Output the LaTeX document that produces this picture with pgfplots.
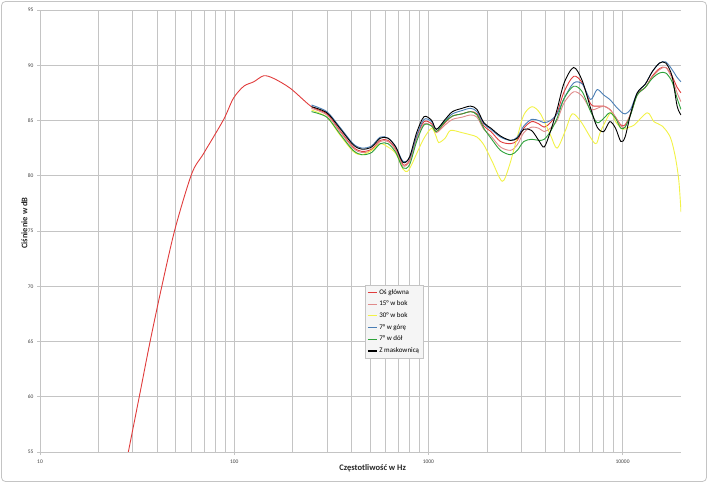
\documentclass[border=0pt]{standalone}
\usepackage{fontspec}
\setmainfont{Carlito}
\usepackage{pgfplots}
\pgfplotsset{compat=1.18}
\definecolor{cRed}{HTML}{E03C3C}
\definecolor{cSalmon}{HTML}{E08A8A}
\definecolor{cYellow}{HTML}{F2F247}
\definecolor{cBlue}{HTML}{4A7EB5}
\definecolor{cGreen}{HTML}{2EA23A}
\definecolor{cGrid}{HTML}{C4C4C4}
\definecolor{cTxt}{HTML}{404040}
\begin{document}
\begin{tikzpicture}
\useasboundingbox (0,0) rectangle (708bp,483bp);
\draw[rounded corners=4bp, color=cGrid, line width=0.8bp] (1.5bp,1.5bp) rectangle (706.5bp,481.5bp);
\begin{axis}[
  at={(40bp,31bp)}, anchor=south west,
  scale only axis, width=641bp, height=442bp,
  xmode=log, xmin=10, xmax=20000, ymin=55, ymax=95,
  ytick={55,60,...,95},
  xtick={10,100,1000,10000}, xticklabels={10,100,1000,10000},
  grid=both,
  major grid style={color=cGrid, line width=0.6bp},
  minor grid style={color=cGrid, line width=0.6bp},
  axis line style={color=cGrid, line width=0.7bp},
  axis x line*=bottom, axis y line*=left,
  tick style={color=cGrid, line width=0.6bp},
  tick align=outside, major tick length=3bp, minor tick length=0pt,
  /pgf/number format/assume math mode=true,
  tick label style={font=\fontsize{5.5bp}{6.5bp}\selectfont, text=cTxt},
  xticklabel style={yshift=-1bp},
  xlabel={\bfseries Częstotliwość w Hz},
  ylabel={\bfseries Ciśnienie w dB},
  label style={font=\fontsize{8.5bp}{10bp}\selectfont\bfseries, text=black!85},
  xlabel style={at={(axis description cs:0.519,0)}, anchor=north, yshift=-9bp},
  ylabel style={at={(axis description cs:0,0.518)}, anchor=south, yshift=9bp},
  legend style={at={(0.507,0.378)}, anchor=north west,
    fill=black!4, draw=cGrid, line width=0.5bp,
    font=\fontsize{7bp}{8bp}\selectfont,
    row sep=1.4bp, inner xsep=2bp, inner ysep=2bp},
  legend cell align=left,
  legend image code/.code={\draw[#1, line width=1.1bp] (0bp,0bp) -- (9bp,0bp);},
  every axis plot/.append style={line width=0.9bp, smooth, tension=0.5},
]
% Os glowna
\addplot[draw=cRed] coordinates {
(28.5,55) (32.7,60.3) (36.9,65) (42.4,70) (49.7,75.25) (60.5,80.2) (69.5,82) (88,85.05) (99,87) (112,88.1) (126,88.5) (142,89.05) (160,88.8) (195,87.9) (250,86.25)
(300,85.6) (350,84.1) (410,82.6) (455,82.2) (510,82.4) (565,83.2) (620,83.2) (680,82.4) (740,81.0) (800,81.4) (870,83.5) (950,84.9) (1040,84.7) (1100,84.0) (1220,84.8) (1330,85.4) (1490,85.6) (1650,85.8) (1780,85.6) (1930,84.5) (2100,84.0) (2350,83.1) (2650,82.9) (2870,83.2) (3100,84.3) (3400,84.9) (3700,84.7) (3950,84.4) (4250,84.8) (4600,85.7) (5000,87.6) (5600,89.0) (6200,88.4) (6850,86.5) (7400,86.3) (8000,86.3) (8600,86.0) (9200,85.3) (9800,84.6) (10300,84.6) (11000,85.6) (11900,87.4) (13100,88.0) (14200,89.0) (15500,89.7) (16700,89.8) (18000,89.0) (19100,88.0) (20000,87.5)
};
\addlegendentry{Oś główna}
% 15 w bok
\addplot[draw=cSalmon] coordinates {
(250,86.1) (300,85.5) (350,84.0) (410,82.5) (455,82.1) (510,82.3) (565,83.1) (620,83.1) (680,82.3) (740,80.9) (800,81.3) (870,83.3) (950,84.7) (1040,84.5) (1100,83.9) (1220,84.6) (1330,85.1) (1490,85.3) (1650,85.5) (1780,85.3) (1930,84.2) (2100,83.6) (2350,82.6) (2650,82.3) (2870,82.8) (3100,83.9) (3400,84.4) (3700,84.3) (3950,84.0) (4250,84.3) (4600,85.0) (5000,86.6) (5600,87.6) (6200,87.2) (6850,86.0) (7400,86.1) (8000,86.3) (8600,86.0) (9200,85.3) (9800,84.5) (10300,84.4) (11000,85.6) (11900,87.3) (13100,88.0) (14200,88.9) (15500,89.6) (16700,89.8) (18000,88.8) (19100,87.5) (20000,86.7)
};
\addlegendentry{15° w bok}
% 30 w bok
\addplot[draw=cYellow] coordinates {
(250,85.95) (300,85.3) (350,83.7) (410,82.2) (455,81.9) (510,82.3) (565,82.9) (620,82.6) (680,82.0) (740,80.6) (780,80.4) (820,81.0) (870,82.0) (950,83.4) (1040,84.3) (1100,83.5) (1130,83.0) (1220,83.4) (1300,84.1) (1490,83.9) (1650,83.7) (1780,83.5) (1930,82.8) (2130,81.3) (2400,79.5) (2600,80.8) (2870,83.5) (3100,85.5) (3420,86.25) (3780,85.6) (4250,83.7) (4600,82.5) (5080,84.1) (5500,85.6) (6100,84.9) (7230,82.9) (7700,84.0) (8680,85.7) (9200,84.9) (10000,84.2) (10800,84.4) (11500,84.6) (13400,85.7) (14500,84.9) (16000,84.5) (17600,83.5) (18700,81.7) (19500,79.5) (20000,76.7)
};
\addlegendentry{30° w bok}
% 7 w gore
\addplot[draw=cBlue] coordinates {
(250,86.4) (300,85.8) (350,84.4) (410,82.9) (455,82.5) (510,82.7) (565,83.5) (620,83.4) (680,82.6) (740,81.3) (800,81.6) (870,83.6) (950,85.1) (1040,84.9) (1100,84.2) (1220,85.0) (1330,85.6) (1490,85.9) (1650,86.1) (1780,85.8) (1930,84.7) (2100,84.2) (2350,83.5) (2650,83.2) (2870,83.5) (3100,84.5) (3400,85.1) (3700,85.0) (3950,84.8) (4250,85.0) (4600,85.6) (5000,87.0) (5600,88.4) (6200,88.3) (6850,86.9) (7400,87.8) (8000,87.3) (8600,86.9) (9200,86.3) (9800,85.8) (10300,85.6) (11000,86.0) (11900,87.5) (13100,88.3) (14200,89.4) (15500,90.2) (16700,90.3) (18000,89.6) (19100,88.9) (20000,88.5)
};
\addlegendentry{7° w górę}
% 7 w dol
\addplot[draw=cGreen] coordinates {
(250,85.8) (300,85.3) (350,83.8) (410,82.3) (455,81.9) (510,82.1) (565,82.9) (620,82.9) (680,82.1) (740,80.7) (800,81.0) (870,83.1) (950,84.6) (1040,84.5) (1100,84.0) (1220,84.9) (1330,85.4) (1490,85.6) (1650,85.8) (1780,85.5) (1930,84.3) (2100,83.4) (2350,82.3) (2650,81.9) (2870,82.3) (3100,83.1) (3400,83.3) (3700,83.2) (3950,83.3) (4250,84.0) (4600,85.2) (5000,87.0) (5600,88.1) (6200,87.6) (6850,85.8) (7400,84.8) (8000,85.2) (8600,85.7) (9200,85.2) (9800,84.3) (10300,84.4) (11000,85.5) (11900,87.3) (13100,88.0) (14200,88.8) (15500,89.3) (16700,89.3) (18000,88.5) (19100,87.0) (20000,86.0)
};
\addlegendentry{7° w dół}
% Z maskownica
\addplot[draw=black] coordinates {
(250,86.25) (300,85.7) (350,84.3) (410,82.8) (455,82.4) (510,82.6) (565,83.4) (620,83.4) (680,82.6) (740,81.2) (800,81.7) (870,83.9) (950,85.35) (1040,85.0) (1100,84.2) (1220,85.1) (1330,85.8) (1490,86.1) (1650,86.3) (1780,86.0) (1930,84.8) (2100,84.3) (2350,83.6) (2650,83.2) (2870,83.4) (3100,84.2) (3400,84.1) (3700,83.2) (3950,82.6) (4250,84.0) (4600,86.0) (5000,88.4) (5600,89.8) (6200,88.6) (6850,86.1) (7400,84.4) (8000,84.0) (8600,84.9) (9200,84.3) (9800,83.1) (10300,83.5) (11000,85.6) (11900,87.5) (13100,88.3) (14200,89.4) (15500,90.2) (16700,90.2) (18000,89.0) (19100,86.3) (20000,85.5)
};
\addlegendentry{Z maskownicą}
\end{axis}
\end{tikzpicture}
\end{document}
